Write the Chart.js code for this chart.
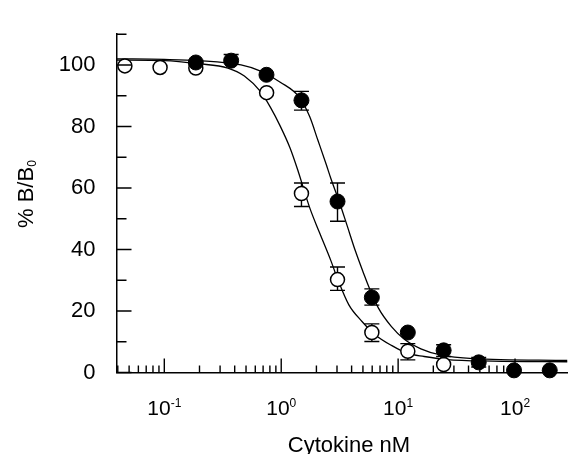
<!DOCTYPE html>
<html>
<head>
<meta charset="UTF-8">
<title>Cytokine binding</title>
<script src="https://cdn.jsdelivr.net/npm/chart.js@4.4.0/dist/chart.umd.min.js"></script>
<style>
    body { margin: 0; background: #fff; }
    #wrap { width: 576px; height: 454px; }
</style>
</head>
<body>
<div id="wrap"><canvas id="chart"></canvas></div>
<script>
// open circles
const openX = [0.046, 0.092, 0.186, 0.75, 1.49, 3.03, 5.96, 12.1, 24.5];
const openY = [99.7, 99.2, 99.0, 91.0, 58.2, 30.2, 13.0, 6.9, 2.6];
const openLo = [null, null, null, null, 54.0, 26.7, 10.1, 4.1, null];
const openHi = [null, null, null, null, 61.6, 34.3, 15.8, 9.4, null];

// filled circles
const filledX = [0.186, 0.373, 0.748, 1.49, 3.03, 5.96, 12.1, 24.5, 48.9, 98, 198];
const filledY = [100.8, 101.4, 96.8, 88.5, 55.6, 24.4, 13.0, 7.2, 3.3, 0.7, 0.7];
const filledLo = [null, null, null, 85.3, 49.2, 21.9, null, 5.2, 1.8, null, null];
const filledHi = [null, 103.4, null, 91.4, 61.6, 27.2, null, 9.0, 4.9, null, null];

// fitted curves
const openCurveX = [0.0391, 0.1, 0.196, 0.35, 0.484, 0.666, 0.809, 0.981, 1.19, 1.40, 1.751, 2.124, 2.663, 3.03, 3.79, 4.91, 6.35, 8.77, 12.08, 16.7, 26.2, 64.5, 281];
const openCurveY = [101.6, 101.4, 100.4, 99.0, 96.4, 91.3, 86.2, 80.1, 73.0, 65.3, 53.6, 45.5, 36.3, 30.5, 22.0, 16.6, 12.3, 8.8, 6.2, 5.2, 4.2, 3.7, 3.5];
const filledCurveX = [0.0391, 0.1, 0.196, 0.453, 0.666, 0.981, 1.443, 1.751, 2.06, 2.42, 2.663, 3.126, 3.68, 4.32, 5.07, 5.58, 6.77, 8.77, 11.3, 15.65, 23.0, 43.8, 281];
const filledCurveY = [102.0, 101.8, 101.4, 100.0, 98.0, 94.4, 89.3, 83.2, 75.5, 67.8, 63.0, 55.7, 47.5, 39.4, 32.2, 28.1, 21.0, 14.9, 10.8, 7.7, 5.7, 4.5, 3.9];

// axes
const yLabels = [0, 20, 40, 60, 80, 100];
const yMinor = [10, 30, 50, 70, 90, 110];
const xDecades = [0.01, 0.1, 1, 10, 100];
const xSteps = [1, 2, 3, 4, 5, 6, 7, 8, 9];
const xLabelValues = [0.1, 1, 10, 100];
const xLabelExps = ['-1', '0', '1', '2'];

const FONT = "'Liberation Sans', Arial, sans-serif";

function pts(xs, ys) {
    return xs.map((x, i) => ({ x: x, y: ys[i] }));
}

const decor = {
    id: 'decor',
    beforeDatasetsDraw(chart) {
        const { ctx, scales: { x, y } } = chart;
        ctx.save();
        ctx.strokeStyle = '#000';
        ctx.lineWidth = 1.4;
        const bars = [[openX, openY, openLo, openHi], [filledX, filledY, filledLo, filledHi]];
        bars.forEach(([xs, ys, lo, hi]) => {
            xs.forEach((xv, i) => {
                const px = x.getPixelForValue(xv);
                const py = y.getPixelForValue(ys[i]);
                [lo[i], hi[i]].forEach(e => {
                    if (e === null) return;
                    const pe = y.getPixelForValue(e);
                    ctx.beginPath();
                    ctx.moveTo(px, py); ctx.lineTo(px, pe);
                    ctx.moveTo(px - 7.5, pe); ctx.lineTo(px + 7.5, pe);
                    ctx.stroke();
                });
            });
        });
        ctx.restore();
    },
    afterDraw(chart) {
        const { ctx, chartArea: a, scales: { x, y } } = chart;
        ctx.save();
        ctx.strokeStyle = '#000';
        ctx.lineWidth = 1.4;
        ctx.beginPath();
        yLabels.forEach(v => {
            const py = y.getPixelForValue(v);
            ctx.moveTo(a.left, py); ctx.lineTo(a.left + 15, py);
        });
        yMinor.forEach(v => {
            const py = y.getPixelForValue(v);
            ctx.moveTo(a.left, py); ctx.lineTo(a.left + 10, py);
        });
        xDecades.forEach(d => {
            xSteps.forEach(s => {
                const v = d * s;
                if (v < x.min || v > x.max) return;
                const px = x.getPixelForValue(v);
                ctx.moveTo(px, a.bottom); ctx.lineTo(px, a.bottom - (s === 1 ? 14 : 7));
            });
        });
        ctx.stroke();

        // x tick labels with superscripts
        ctx.fillStyle = '#000';
        ctx.textBaseline = 'alphabetic';
        ctx.textAlign = 'left';
        xLabelValues.forEach((v, i) => {
            const px = x.getPixelForValue(v);
            ctx.font = '21px ' + FONT;
            const w1 = ctx.measureText('10').width;
            ctx.font = '12px ' + FONT;
            const w2 = ctx.measureText(xLabelExps[i]).width;
            const start = px - (w1 + w2) / 2;
            ctx.font = '21px ' + FONT;
            ctx.fillText('10', start, 415);
            ctx.font = '12px ' + FONT;
            ctx.fillText(xLabelExps[i], start + w1, 407);
        });

        // axis titles
        ctx.font = '22px ' + FONT;
        ctx.textAlign = 'center';
        ctx.fillText('Cytokine nM', 349, 451.5);

        ctx.save();
        ctx.translate(33, 228);
        ctx.rotate(-Math.PI / 2);
        ctx.textAlign = 'left';
        ctx.font = '22px ' + FONT;
        ctx.fillText('% B/B', 0, 0);
        const wt = ctx.measureText('% B/B').width;
        ctx.font = '12px ' + FONT;
        ctx.fillText('0', wt, 3);
        ctx.restore();

        ctx.restore();
    }
};

new Chart(document.getElementById('chart'), {
    type: 'scatter',
    data: {
        datasets: [
            {
                label: 'filled',
                data: pts(filledX, filledY),
                pointRadius: 7.5,
                pointBackgroundColor: '#000',
                pointBorderColor: '#000',
                pointBorderWidth: 1,
                showLine: false,
                clip: false
            },
            {
                label: 'open',
                data: pts(openX, openY),
                pointRadius: 7,
                pointBackgroundColor: '#fff',
                pointBorderColor: '#000',
                pointBorderWidth: 1.5,
                showLine: false,
                clip: false
            },
            {
                label: 'open fit',
                data: pts(openCurveX, openCurveY),
                showLine: true,
                pointRadius: 0,
                borderColor: '#000',
                borderWidth: 1.3,
                cubicInterpolationMode: 'monotone'
            },
            {
                label: 'filled fit',
                data: pts(filledCurveX, filledCurveY),
                showLine: true,
                pointRadius: 0,
                borderColor: '#000',
                borderWidth: 1.3,
                cubicInterpolationMode: 'monotone'
            }
        ]
    },
    options: {
        responsive: true,
        maintainAspectRatio: false,
        animation: false,
        events: [],
        layout: { padding: { top: 11.7, right: 0, left: 0, bottom: 0 } },
        plugins: { legend: { display: false }, tooltip: { enabled: false } },
        scales: {
            x: {
                type: 'logarithmic',
                min: 0.039,
                max: 281,
                afterFit: s => { s.height = 81.5; },
                grid: { display: false, drawTicks: false },
                border: { display: true, color: '#000', width: 1.5 },
                ticks: { display: false }
            },
            y: {
                type: 'linear',
                min: 0,
                max: 110,
                afterBuildTicks: s => { s.ticks = yLabels.map(v => ({ value: v })); },
                afterFit: s => { s.width = 116.5; },
                grid: { display: false, drawTicks: false },
                border: { display: true, color: '#000', width: 1.5 },
                ticks: { color: '#000', padding: 21, font: { family: FONT, size: 22 } }
            }
        }
    },
    plugins: [decor]
});
</script>
</body>
</html>
